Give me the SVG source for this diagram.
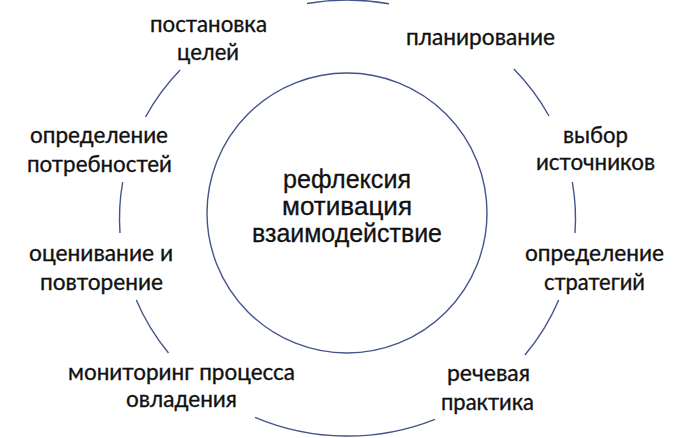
<svg xmlns="http://www.w3.org/2000/svg" width="697" height="438" viewBox="0 0 697 438">
<style>
.lbl{font-family:Lato,"Noto Sans","DejaVu Sans",sans-serif;font-size:24px;fill:#111;stroke:#111;stroke-width:0.35;text-anchor:middle}
.ctr{font-family:"Liberation Sans",Arial,sans-serif;font-size:25px;fill:#111;stroke:#111;stroke-width:0.3;text-anchor:middle}
.arc{fill:none;stroke:#46548a;stroke-width:1.4}
</style>
<rect width="697" height="438" fill="#fff"/>
<g id="center">
<circle cx="347" cy="213" r="140" class="arc"/>
<text class="ctr" x="347" y="188" textLength="128" lengthAdjust="spacingAndGlyphs">рефлексия</text>
<text class="ctr" x="347" y="215" textLength="130" lengthAdjust="spacingAndGlyphs">мотивация</text>
<text class="ctr" x="347" y="242" textLength="190" lengthAdjust="spacingAndGlyphs">взаимодействие</text>
</g>
<g id="connectors">
<path class="arc" d="M307 3.5 A228 218 0 0 1 389 3.7"/>
<path class="arc" d="M513.9 69 A228 218 0 0 1 549 116"/>
<path class="arc" d="M572.3 182 A228 218 0 0 1 575 233"/>
<path class="arc" d="M558.7 300 A228 218 0 0 1 524.9 355"/>
<path class="arc" d="M435 419.3 A228 218 0 0 1 255 417.3"/>
<path class="arc" d="M168.5 353 A228 218 0 0 1 136.3 300"/>
<path class="arc" d="M120 233 A228 218 0 0 1 122.7 182"/>
<path class="arc" d="M145.5 117 A228 218 0 0 1 180.1 70"/>
</g>
<g id="n1">
<text class="lbl" x="208.5" y="32" textLength="117" lengthAdjust="spacingAndGlyphs">постановка</text>
<text class="lbl" x="208" y="60" textLength="62" lengthAdjust="spacingAndGlyphs">целей</text>
</g>
<g id="n2">
<text class="lbl" x="480.5" y="45" textLength="149" lengthAdjust="spacingAndGlyphs">планирование</text>
</g>
<g id="n3">
<text class="lbl" x="595.5" y="143" textLength="65" lengthAdjust="spacingAndGlyphs">выбор</text>
<text class="lbl" x="595.5" y="170" textLength="119" lengthAdjust="spacingAndGlyphs">источников</text>
</g>
<g id="n4">
<text class="lbl" x="594.5" y="261" textLength="139" lengthAdjust="spacingAndGlyphs">определение</text>
<text class="lbl" x="594.5" y="290" textLength="101" lengthAdjust="spacingAndGlyphs">стратегий</text>
</g>
<g id="n5">
<text class="lbl" x="488.5" y="381" textLength="83" lengthAdjust="spacingAndGlyphs">речевая</text>
<text class="lbl" x="487.5" y="410" textLength="93" lengthAdjust="spacingAndGlyphs">практика</text>
</g>
<g id="n6">
<text class="lbl" x="181.5" y="380" textLength="227" lengthAdjust="spacingAndGlyphs">мониторинг процесса</text>
<text class="lbl" x="181.5" y="407" textLength="111" lengthAdjust="spacingAndGlyphs">овладения</text>
</g>
<g id="n7">
<text class="lbl" x="101" y="261" textLength="144" lengthAdjust="spacingAndGlyphs">оценивание и</text>
<text class="lbl" x="101.5" y="290" textLength="123" lengthAdjust="spacingAndGlyphs">повторение</text>
</g>
<g id="n8">
<text class="lbl" x="99" y="143" textLength="138" lengthAdjust="spacingAndGlyphs">определение</text>
<text class="lbl" x="99.5" y="172" textLength="145" lengthAdjust="spacingAndGlyphs">потребностей</text>
</g>
</svg>
